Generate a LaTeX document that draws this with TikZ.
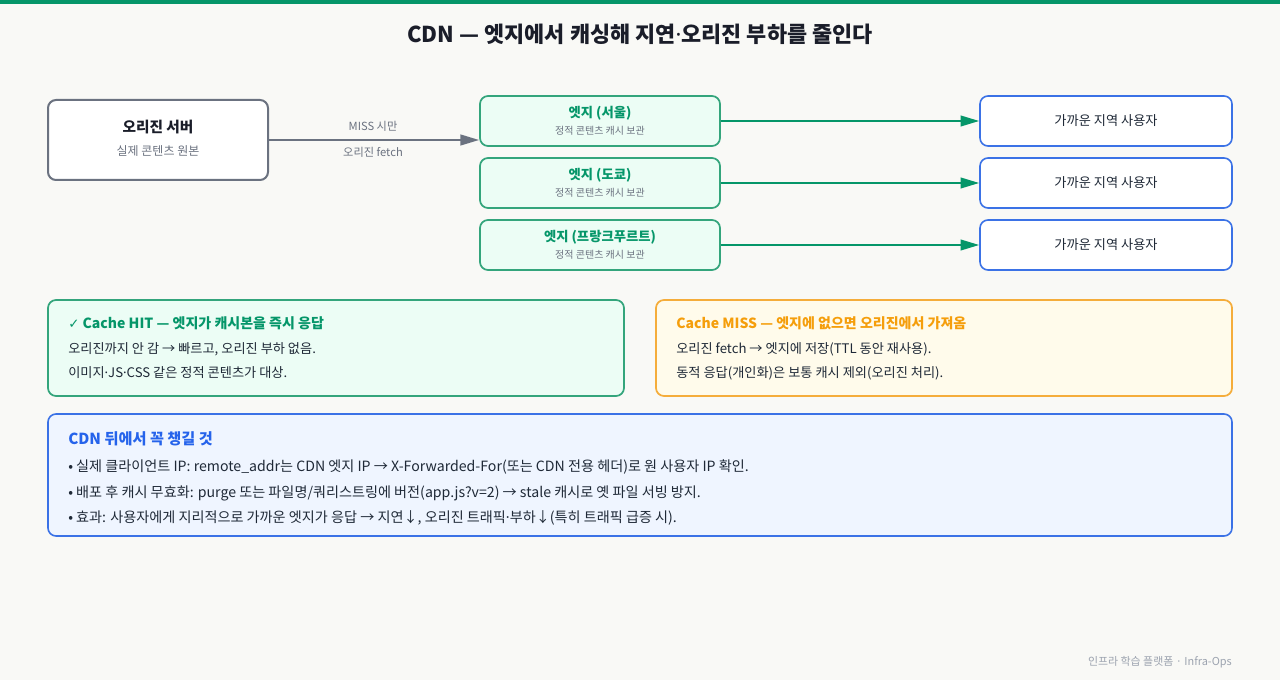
\documentclass[tikz,border=0pt]{standalone}
\usepackage{fontspec}
\setmainfont{Noto Sans CJK KR}
\newfontfamily\symf{DejaVu Sans}
\newfontfamily\dotf{Noto Sans}
\newcommand\md{{\dotf ·}}
\usetikzlibrary{arrows.meta}
\definecolor{bg}{HTML}{F9F9F6}
\definecolor{topbar}{HTML}{059669}
\definecolor{titlec}{HTML}{1A1D29}
\definecolor{grayc}{HTML}{6B7280}
\definecolor{darkc}{HTML}{1F2937}
\definecolor{greenc}{HTML}{059669}
\definecolor{greenstroke}{HTML}{34A57C}
\definecolor{mint}{HTML}{ECFDF5}
\definecolor{bluestroke}{HTML}{3B72E6}
\definecolor{bluefill}{HTML}{EFF5FF}
\definecolor{bluetitle}{HTML}{2563EB}
\definecolor{orangestroke}{HTML}{F5AD3B}
\definecolor{orangefill}{HTML}{FFFBEB}
\definecolor{orangetitle}{HTML}{F59E0B}
\definecolor{footc}{HTML}{9CA3AF}
\tikzset{
  box/.style={rounded corners=6pt, inner sep=0pt, line width=1.5pt},
  originbox/.style={box, draw=grayc, fill=white, minimum width=165pt, minimum height=60pt},
  edgebox/.style={box, draw=greenstroke, fill=mint, minimum width=180pt, minimum height=37.5pt, line width=1.3pt},
  userbox/.style={box, draw=bluestroke, fill=white, minimum width=189pt, minimum height=37.5pt, line width=1.2pt},
  t/.style={inner sep=0pt, font=\fontsize{#1}{#1}\selectfont},
  tb/.style={inner sep=0pt, font=\fontsize{#1}{#1}\selectfont\bfseries},
  conn/.style={line width=1.5pt},
}
\begin{document}
\begin{tikzpicture}[x=0.75pt,y=-0.75pt]
\useasboundingbox (0,0) rectangle (1280,680);
\fill[bg] (0,0) rectangle (1280,680);
\fill[topbar] (0,0) rectangle (1280,4);
\node[tb=16.4pt, text=titlec] (title) at (640,34) {CDN — 엣지에서 캐싱해 지연\md 오리진 부하를 줄인다};

% origin
\node[originbox] (origin) at (158,140) {};
\node[tb=11pt, text=titlec] (origint) at (158,127) {오리진 서버};
\node[t=9pt, text=grayc] (origins) at (158,151) {실제 콘텐츠 원본};

% edges
\node[edgebox] (e1) at (600,121) {};
\node[edgebox] (e2) at (600,183) {};
\node[edgebox] (e3) at (600,245) {};
\foreach \n/\y/\name in {1/121/서울, 2/183/도쿄, 3/245/프랑크푸르트}{
  \node[tb=10pt, text=greenc] (e\n t) at (600,\y-8) {엣지 (\name)};
  \node[t=7.5pt, text=grayc] (e\n s) at (600,\y+10) {정적 콘텐츠 캐시 보관};
}

% users
\node[userbox] (u1) at (1106,121) {};
\node[userbox] (u2) at (1106,183) {};
\node[userbox] (u3) at (1106,245) {};
\foreach \n/\y in {1/121,2/183,3/245}{
  \node[t=9.9pt, text=darkc] (u\n t) at (1106,\y) {가까운 지역 사용자};
}

% connectors
\draw[conn, draw=grayc, -{Triangle[length=14pt,width=8pt]}] (origin.east) -- (e1.west |- origin.east) coordinate (oe);
\node[t=8.4pt, text=grayc] (lab1) at (373,126) {MISS 시만};
\node[t=8.4pt, text=grayc] (lab2) at (373,152) {오리진 fetch};
\foreach \n in {1,2,3}{
  \draw[conn, draw=greenc, -{Triangle[length=14pt,width=8pt]}] (e\n.east) -- (u\n.west);
}

% HIT box
\node[box, draw=greenstroke, fill=mint, minimum width=432pt, minimum height=72pt, line width=1.3pt] (hit) at (336,348) {};
\node[tb=10.5pt, text=greenc, anchor=west] (hitt) at (68,323) {{\symf\fontsize{10pt}{10pt}\selectfont\mdseries ✓} Cache HIT — 엣지가 캐시본을 즉시 응답};
\node[t=9.9pt, text=darkc, anchor=west] (hit1) at (68,349) {오리진까지 안 감 → 빠르고, 오리진 부하 없음.};
\node[t=9.9pt, text=darkc, anchor=west] (hit2) at (68,373) {이미지\md JS\md CSS 같은 정적 콘텐츠가 대상.};

% MISS box
\node[box, draw=orangestroke, fill=orangefill, minimum width=432pt, minimum height=72pt, line width=1.3pt] (miss) at (944,348) {};
\node[tb=10.5pt, text=orangetitle, anchor=west] (misst) at (676,323) {Cache MISS — 엣지에 없으면 오리진에서 가져옴};
\node[t=9.9pt, text=darkc, anchor=west] (miss1) at (676,349) {오리진 fetch → 엣지에 저장(TTL 동안 재사용).};
\node[t=9.9pt, text=darkc, anchor=west] (miss2) at (676,373) {동적 응답(개인화)은 보통 캐시 제외(오리진 처리).};

% bottom box
\node[box, draw=bluestroke, fill=bluefill, minimum width=888pt, minimum height=91.5pt, line width=1.2pt] (note) at (640,475) {};
\node[tb=11.4pt, text=bluetitle, anchor=west] (notet) at (68,439) {CDN 뒤에서 꼭 챙길 것};
\node[t=10.6pt, text=darkc, anchor=west] (n1) at (68,467) {• 실제 클라이언트 IP: remote\_addr는 CDN 엣지 IP → X-Forwarded-For(또는 CDN 전용 헤더)로 원 사용자 IP 확인.};
\node[t=10.6pt, text=darkc, anchor=west] (n2) at (68,493) {• 배포 후 캐시 무효화: purge 또는 파일명/쿼리스트링에 버전(app.js?v=2) → stale 캐시로 옛 파일 서빙 방지.};
\node[t=10.6pt, text=darkc, anchor=west] (n3) at (68,518) {• 효과: 사용자에게 지리적으로 가까운 엣지가 응답 → 지연↓, 오리진 트래픽\md 부하↓(특히 트래픽 급증 시).};

% footer
\node[t=8.2pt, text=footc, anchor=east] (foot) at (1232,662) {인프라 학습 플랫폼 · Infra-Ops};
\end{tikzpicture}
\end{document}
